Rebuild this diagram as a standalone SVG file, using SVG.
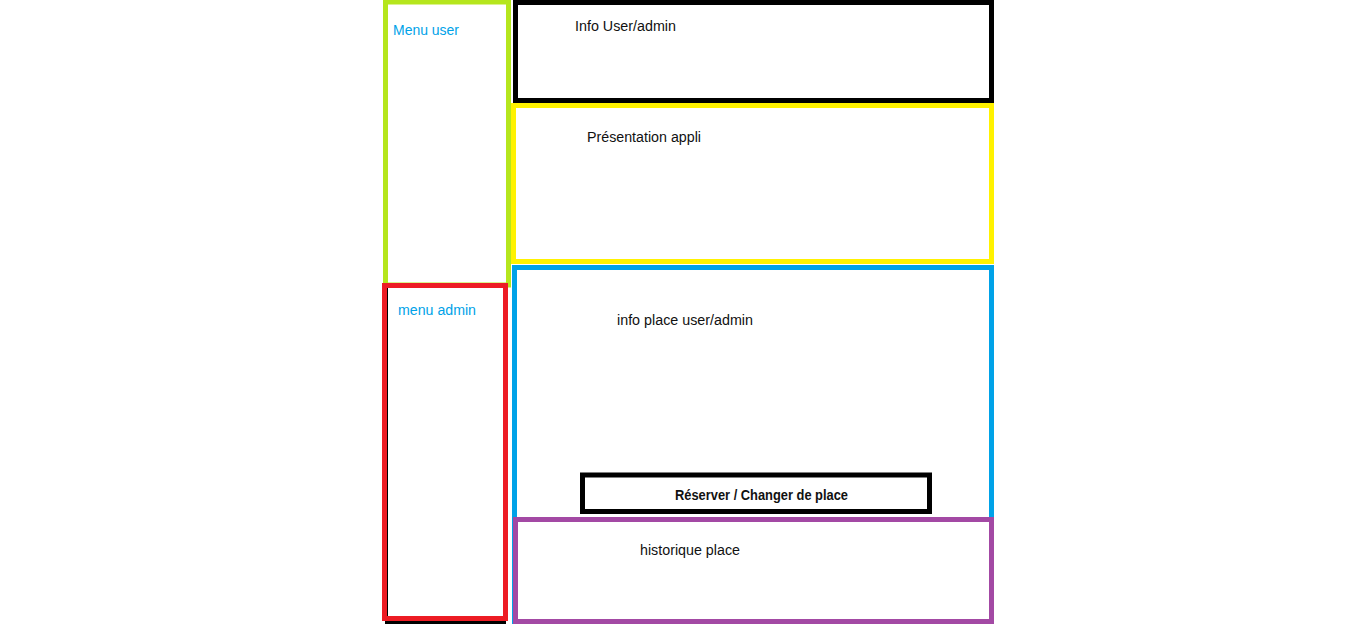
<svg xmlns="http://www.w3.org/2000/svg" width="1360" height="624" viewBox="0 0 1360 624">
<style>
.box{fill:none;stroke-width:5}
.t{font-family:"Liberation Sans",Arial,sans-serif;font-size:14px;fill:#111}
.b{fill:#00a2e8}
.bold{font-weight:bold}
</style>
<rect width="1360" height="624" fill="#fff"/>
<g id="connectors"></g>
<g id="menu-user">
<rect class="box" x="385.5" y="2" width="123" height="283" stroke="#b5e61d"/>
<text class="t b" x="393" y="35" textLength="66" lengthAdjust="spacingAndGlyphs">Menu user</text>
</g>
<g id="menu-admin">
<rect x="386.5" y="286" width="118" height="336.5" fill="none" stroke="#000" stroke-width="3"/>
<rect class="box" x="384.5" y="285.5" width="121" height="333" stroke="#ed1c24"/>
<text class="t b" x="398" y="315" textLength="78" lengthAdjust="spacingAndGlyphs">menu admin</text>
</g>
<g id="info-user">
<rect class="box" x="515.5" y="2.5" width="476" height="98" stroke="#000"/>
<text class="t" x="575" y="31" textLength="101" lengthAdjust="spacingAndGlyphs">Info User/admin</text>
</g>
<g id="presentation">
<rect class="box" x="513.5" y="105.5" width="478" height="156" stroke="#fff200"/>
<text class="t" x="587" y="142" textLength="114" lengthAdjust="spacingAndGlyphs">Présentation appli</text>
</g>
<g id="info-place">
<rect class="box" x="514.5" y="267.5" width="477" height="362" stroke="#00a2e8"/>
<text class="t" x="617" y="325" textLength="136" lengthAdjust="spacingAndGlyphs">info place user/admin</text>
</g>
<g id="reserver">
<rect class="box" x="582.5" y="475" width="347" height="36.5" stroke="#000" fill="#fff"/>
<text class="t bold" x="675" y="500" textLength="173" lengthAdjust="spacingAndGlyphs">Réserver / Changer de place</text>
</g>
<g id="historique">
<rect class="box" x="515.5" y="519.5" width="476" height="102" stroke="#a349a4" fill="#fff"/>
<text class="t" x="640" y="555" textLength="100" lengthAdjust="spacingAndGlyphs">historique place</text>
</g>
</svg>
